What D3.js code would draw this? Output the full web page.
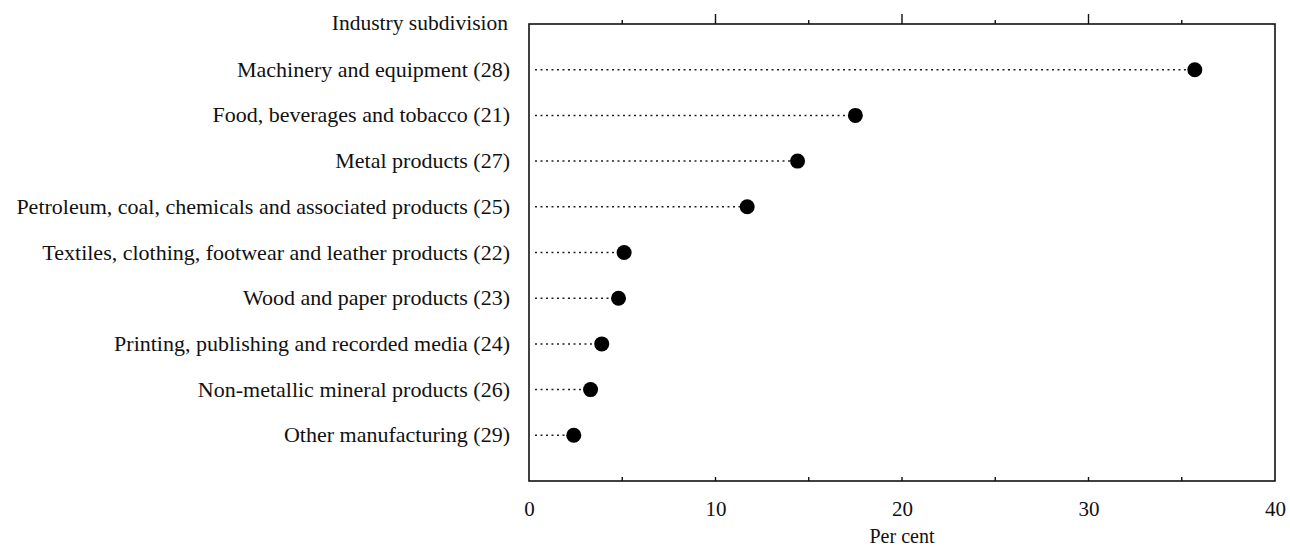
<!DOCTYPE html>
<html lang="en">
<head>
<meta charset="UTF-8">
<title>Industry subdivision</title>
<script src="https://d3js.org/d3.v7.min.js"></script>
<style>
    body { margin: 0; background: #fff; }
    svg text { font-family: "Liberation Serif", "Times New Roman", "DejaVu Serif", serif; fill: #111; }
    .dotline { stroke: #222; stroke-width: 1.5; stroke-dasharray: 2 3.5; }
</style>
</head>
<body>
<script>
var categories = [
    "Machinery and equipment (28)",
    "Food, beverages and tobacco (21)",
    "Metal products (27)",
    "Petroleum, coal, chemicals and associated products (25)",
    "Textiles, clothing, footwear and leather products (22)",
    "Wood and paper products (23)",
    "Printing, publishing and recorded media (24)",
    "Non-metallic mineral products (26)",
    "Other manufacturing (29)"
];
var values = [35.7, 17.5, 14.4, 11.7, 5.1, 4.8, 3.9, 3.3, 2.4];
var xTicks = [0, 10, 20, 30, 40];
var minorTicks = [5, 15, 25, 35];

var W = 1290, H = 550;
var plotL = 529, plotR = 1275, plotT = 24, plotB = 481;
var serif = "'Liberation Serif', 'Times New Roman', 'DejaVu Serif', serif";

var svg = d3.select("body").append("svg")
    .attr("width", W)
    .attr("height", H);

var x = d3.scaleLinear().domain([0, 40]).range([plotL, plotR]);
// header row + categories + empty slot at the bottom
var y = d3.scalePoint()
    .domain(["__header"].concat(categories, ["__end"]))
    .range([plotT, plotB]);

// frame
svg.append("rect")
    .attr("x", plotL).attr("y", plotT)
    .attr("width", plotR - plotL).attr("height", plotB - plotT)
    .attr("fill", "none").attr("stroke", "#111").attr("stroke-width", 1.6);

// bottom axis labels
var xAxis = d3.axisBottom(x).tickValues(xTicks).tickSize(0).tickPadding(20);
var gx = svg.append("g").attr("transform", "translate(0," + plotB + ")").call(xAxis);
gx.select(".domain").remove();
gx.selectAll("text")
    .attr("font-family", serif)
    .style("font-family", serif)
    .style("font-size", "21px")
    .style("fill", "#111");

// inward ticks on bottom, outward ticks on top
var allTicks = xTicks.slice(1, -1).concat(minorTicks);
svg.append("g").selectAll("line").data(allTicks).join("line")
    .attr("x1", function(d) { return x(d); }).attr("x2", function(d) { return x(d); })
    .attr("y1", plotB).attr("y2", plotB - 4)
    .attr("stroke", "#111").attr("stroke-width", 1.4);
svg.append("g").selectAll("line").data(allTicks).join("line")
    .attr("x1", function(d) { return x(d); }).attr("x2", function(d) { return x(d); })
    .attr("y1", plotT).attr("y2", function(d) { return plotT - (d % 10 === 0 ? 10 : 4); })
    .attr("stroke", "#111").attr("stroke-width", 1.4);

// axis title
svg.append("text")
    .attr("x", x(20)).attr("y", 543)
    .attr("text-anchor", "middle")
    .style("font-size", "20px")
    .text("Per cent");

// header
svg.append("text")
    .attr("x", 508).attr("y", y("__header"))
    .attr("dy", "0.3em")
    .attr("text-anchor", "end")
    .style("font-size", "21.5px")
    .text("Industry subdivision");

// category labels
svg.append("g").selectAll("text").data(categories).join("text")
    .attr("x", 510)
    .attr("y", function(d) { return y(d); })
    .attr("dy", "0.32em")
    .attr("text-anchor", "end")
    .style("font-size", "22px")
    .text(function(d) { return d; });

// dotted leaders
svg.append("g").selectAll("line").data(categories).join("line")
    .attr("class", "dotline")
    .attr("x1", plotL + 6)
    .attr("x2", function(d, i) { return x(values[i]); })
    .attr("y1", function(d) { return y(d); })
    .attr("y2", function(d) { return y(d); });

// dots
svg.append("g").selectAll("circle").data(categories).join("circle")
    .attr("cx", function(d, i) { return x(values[i]); })
    .attr("cy", function(d) { return y(d); })
    .attr("r", 7.5)
    .attr("fill", "#000");
</script>
</body>
</html>
